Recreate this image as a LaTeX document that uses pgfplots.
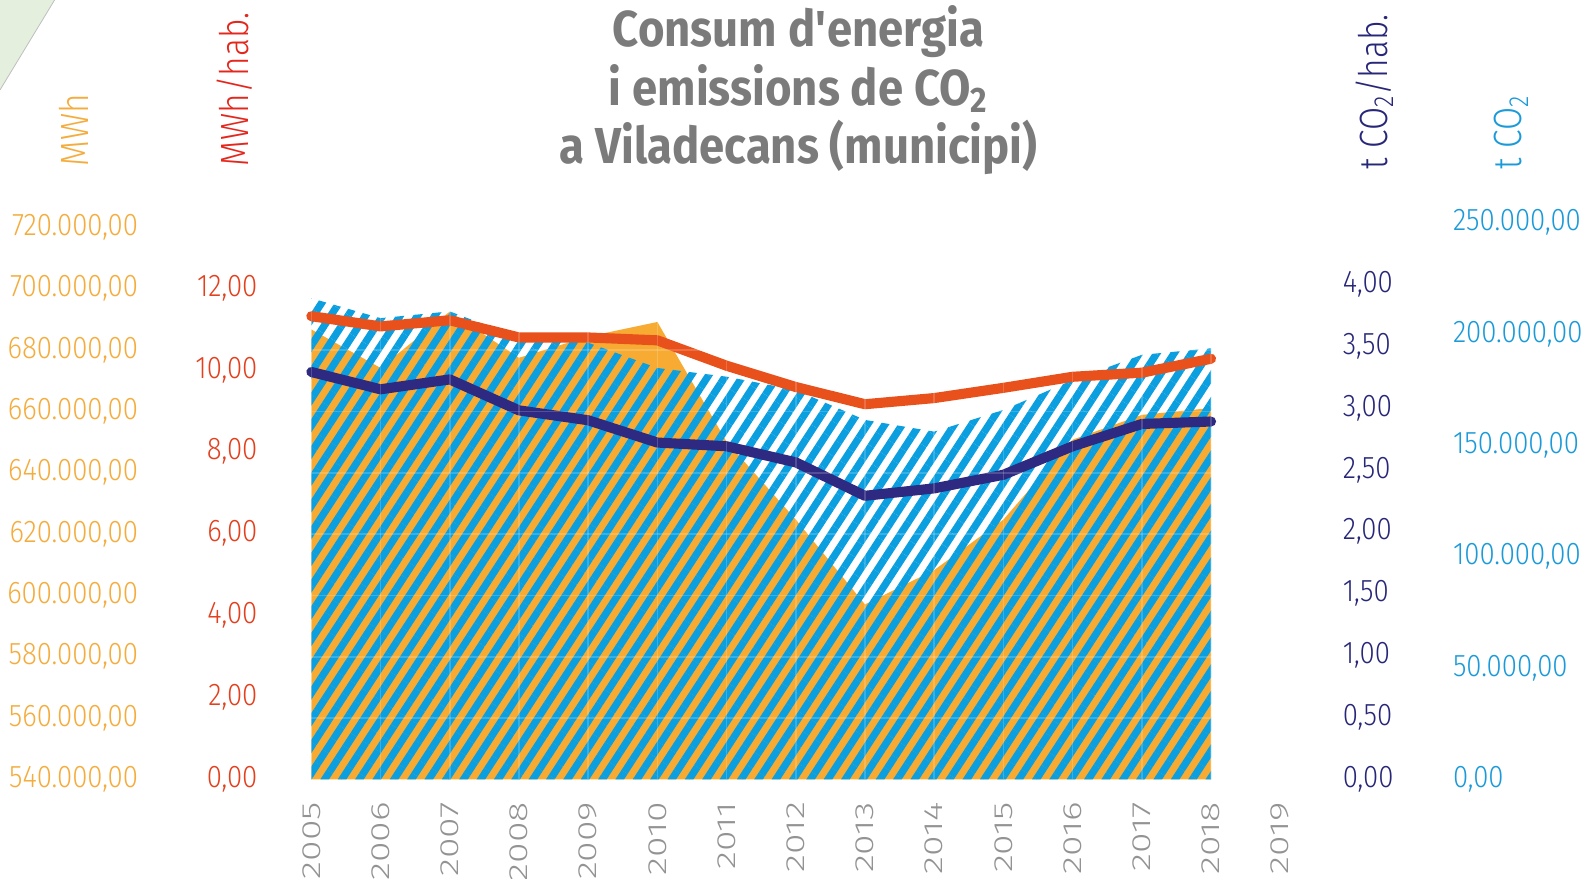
\documentclass[border=0pt]{standalone}
\usepackage{pgfplots}
\pgfplotsset{compat=1.18}
\usepackage{pgfplotstable}
\usepackage{fontspec}
\setmainfont{Fira Sans}
\newfontfamily\titlefont{Fira Sans}[FakeStretch=0.9]
\newfontfamily\tickfont{Fira Sans Light}[FakeStretch=0.88]
\newfontfamily\lblfont{Fira Sans Light}[FakeStretch=0.85]
\newfontfamily\xfont{Fira Sans Light}[FakeStretch=1.42]
\usetikzlibrary{patterns.meta}

\definecolor{cOrange}{HTML}{F7AB33}
\definecolor{cOrangeTxt}{HTML}{F4AC3D}
\definecolor{cRedTxt}{HTML}{E3401E}
\definecolor{cRedLbl}{HTML}{E4261C}
\definecolor{cRed}{HTML}{E8511B}
\definecolor{cNavy}{HTML}{2E2A82}
\definecolor{cNavyTxt}{HTML}{272679}
\definecolor{cBlue}{HTML}{0B9FE0}
\definecolor{cBlueTxt}{HTML}{1A9AD9}
\definecolor{cGrey}{HTML}{7B7B7B}
\definecolor{cXGrey}{HTML}{939393}
\definecolor{cGreen}{HTML}{E4EFDD}

\pgfplotstableread{
year mwh tco2 mwhhab tco2hab
2005 686720 215960 11.31 3.29
2006 674190 207020 11.06 3.15
2007 692550 210060 11.21 3.23
2008 677480 198270 10.79 2.98
2009 684410 196000 10.79 2.90
2010 689160 184660 10.72 2.72
2011 650120 180750 10.10 2.69
2012 624730 174770 9.58 2.56
2013 597040 161340 9.16 2.29
2014 608250 156070 9.31 2.35
2015 624730 165830 9.56 2.46
2016 650780 179210 9.83 2.69
2017 658860 190550 9.93 2.87
2018 661100 193500 10.27 2.89
}\data

\tikzset{
  tickf/.style={font=\tickfont\fontsize{15.5}{18}\selectfont, inner sep=0pt},
  lblf/.style={font=\lblfont\fontsize{19.5}{22}\selectfont},
}
\pgfplotsset{
  base/.style={scale only axis, width=479.25pt, height=275.5pt,
    at={(154pt,49pt)}, anchor=south west, xmin=2005, xmax=2019,
    axis line style={draw=none}, major tick length=0pt, tick style={draw=none},
    xtick=\empty, scaled y ticks=false, scaled x ticks=false,
    /pgf/number format/.cd, assume math mode=true, fixed, fixed zerofill,
    precision=2, use comma, 1000 sep={.}},
}

\begin{document}
\begin{tikzpicture}
\path[use as bounding box] (0,0) rectangle (784pt,434.5pt);
\fill[cGreen] (0,434.5pt) -- (27pt,434.5pt) -- (0,390pt) -- cycle;
\draw[black!25, line width=0.4pt] (27pt,434.5pt) -- (0,390pt);

% orange area: MWh
\begin{axis}[base, ymin=540000, ymax=721640,
  ytick={540000,560000,580000,600000,620000,640000,660000,680000,700000,720000},
  yticklabel style={tickf, text=cOrangeTxt, anchor=east},
  yticklabel shift=85.5pt,
  every axis y label/.style={at={(axis description cs:-0.2452,1.0998)}, rotate=90, anchor=west, inner sep=0pt},
  ylabel={MWh}, ylabel style={lblf, text=cOrangeTxt}]
\addplot[fill=cOrange, draw=none] table[x=year, y=mwh]{\data} \closedcycle;
\end{axis}

% light blue hatch: t CO2
\begin{axis}[base, ymin=0, ymax=250000,
  ytick={0,50000,100000,150000,200000,250000},
  yticklabel pos=right,
  yticklabel style={tickf, text=cBlueTxt, anchor=west},
  yticklabel shift=85.25pt,
  every axis y label/.style={at={(axis description cs:1.2384,1.0944)}, rotate=90, anchor=west, inner sep=0pt},
  ylabel={t CO\textsubscript{2}}, ylabel style={lblf, text=cBlueTxt}]
\addplot[pattern={Lines[angle=57, distance=7.2pt, line width=3.6pt]}, pattern color=cBlue, draw=none]
  table[x=year, y=tco2]{\data} \closedcycle;
\end{axis}

% red line: MWh/hab
\begin{axis}[base, clip=false, ymin=0, ymax=13.60,
  ytick={0,2,4,6,8,10,12},
  yticklabel style={tickf, text=cRedTxt, anchor=east},
  yticklabel shift=26.5pt,
  every axis y label/.style={at={(axis description cs:-0.0793,1.0998)}, rotate=90, anchor=west, inner sep=0pt},
  ylabel={MWh/hab.}, ylabel style={lblf, text=cRedLbl}]
\addplot[cRed, line width=5pt, line join=round, line cap=round] table[x=year, y=mwhhab]{\data};
\end{axis}

% navy line: t CO2/hab
\begin{axis}[base, clip=false, ymin=0, ymax=4.498,
  ytick={0,0.5,1,1.5,2,2.5,3,3.5,4},
  yticklabel pos=right,
  yticklabel style={tickf, text=cNavyTxt, anchor=west},
  yticklabel shift=30.75pt,
  every axis y label/.style={at={(axis description cs:1.0976,1.0944)}, rotate=90, anchor=west, inner sep=0pt},
  ylabel={t CO\textsubscript{2}/hab.}, ylabel style={lblf, text=cNavyTxt}]
\addplot[cNavy, line width=5pt, line join=round, line cap=round] table[x=year, y=tco2hab]{\data};
\end{axis}

% faint grid and x labels
\begin{axis}[base, ymin=540000, ymax=721640,
  xtick={2005,2006,2007,2008,2009,2010,2011,2012,2013,2014,2015,2016,2017,2018,2019},
  xticklabels={2005,2006,2007,2008,2009,2010,2011,2012,2013,2014,2015,2016,2017,2018,2019},
  xticklabel style={rotate=90, anchor=east, inner sep=0pt, font=\xfont\fontsize{13}{15}\selectfont, text=cXGrey},
  xticklabel shift=11pt,
  ytick={560000,580000,600000,620000,640000,660000,680000,700000},
  yticklabels={},
  grid=major, grid style={white, opacity=0.18, line width=0.8pt}]
\end{axis}

% title
\node[font=\titlefont\bfseries\fontsize{25}{29}\selectfont, text=cGrey, anchor=base] at (395pt,411.5pt) {Consum d\textquotesingle energia};
\node[font=\titlefont\bfseries\fontsize{25}{29}\selectfont, text=cGrey, anchor=base] at (395pt,382.5pt) {i emissions de CO\textsubscript{2}};
\node[font=\titlefont\bfseries\fontsize{25}{29}\selectfont, text=cGrey, anchor=base] at (395pt,353.7pt) {a Viladecans (municipi)};
\end{tikzpicture}
\end{document}
